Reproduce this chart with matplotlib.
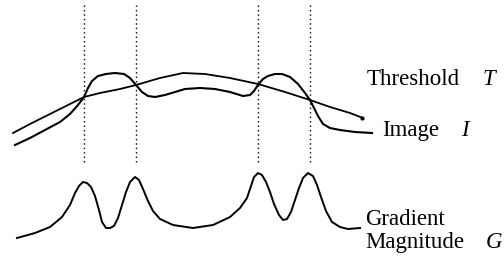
import matplotlib
matplotlib.use("Agg")
import matplotlib.pyplot as plt

# curves (x, y in picture pixels, y down)
thresholdX = [13, 30, 50, 70, 84, 100, 120, 136, 160, 183, 205, 230, 258, 285, 310, 330, 350, 363]
thresholdY = [133, 124, 114, 104, 97, 93, 89, 85, 78, 73, 74, 78, 84, 92, 100, 107, 113, 118]

imageX = [15, 30, 45, 60, 70, 78, 84, 88, 92, 98, 106, 115, 124, 130, 136, 142, 148, 155, 165, 175,
          185, 200, 215, 230, 243, 250, 254, 258, 263, 268, 275, 282, 290, 298, 305, 310, 314, 318,
          323, 330, 340, 355, 372]
imageY = [145, 138, 130, 122, 114, 105, 97, 88, 81, 76, 74, 73, 74, 78, 85, 92, 96, 97, 95, 92,
          89, 88, 89, 92, 96, 95, 91, 85, 79, 76, 74, 74, 77, 84, 93, 100, 108, 116, 124, 128,
          130, 132, 133]

gradX = [17, 35, 50, 62, 70, 75, 79, 83, 87, 91, 95, 99, 102, 106, 110, 114, 118, 122, 126, 130,
         135, 139, 143, 148, 153, 160, 173, 193, 213, 230, 240, 247, 251, 254, 258, 262, 266, 270,
         274, 279, 283, 287, 291, 295, 299, 303, 308, 313, 317, 321, 326, 332, 340, 348, 360]
gradY = [238, 233, 227, 217, 205, 193, 186, 182, 183, 187, 196, 210, 222, 228, 228, 226, 218, 205,
         192, 182, 177, 180, 189, 201, 211, 219, 225, 228, 225, 217, 208, 198, 186, 177, 173, 175,
         182, 192, 204, 215, 220, 219, 212, 200, 188, 178, 173, 176, 185, 197, 211, 222, 227, 229,
         228]

edgeX = [84, 136, 258, 310]

fig = plt.figure(figsize=(5.04, 2.57), dpi=100)
ax = fig.add_axes([0, 0, 1, 1])
ax.set_xlim(0, 504)
ax.set_ylim(257, 0)
ax.axis("off")

for x in edgeX:
    ax.plot([x, x], [5, 162], color="black", lw=1.0, linestyle=(0, (1, 2.2)))

ax.plot(thresholdX, thresholdY, color="black", lw=1.3)
ax.plot(imageX, imageY, color="black", lw=1.5)
ax.plot(gradX, gradY, color="black", lw=1.4)
ax.plot([362], [118], "o", color="black", ms=2)

font = "Liberation Serif"
fs = 16.5
ax.text(367, 85, "Threshold", fontsize=fs, family=font, va="baseline")
ax.text(482, 85, "T", fontsize=fs, family=font, style="italic", va="baseline")
ax.text(382, 136, "Image", fontsize=fs, family=font, va="baseline")
ax.text(461, 136, "I", fontsize=fs, family=font, style="italic", va="baseline")
ax.text(365, 225, "Gradient", fontsize=fs, family=font, va="baseline")
ax.text(365, 248, "Magnitude", fontsize=fs, family=font, va="baseline")
ax.text(486, 248, "G", fontsize=fs, family=font, style="italic", va="baseline")

fig.savefig("out.png", dpi=100)
